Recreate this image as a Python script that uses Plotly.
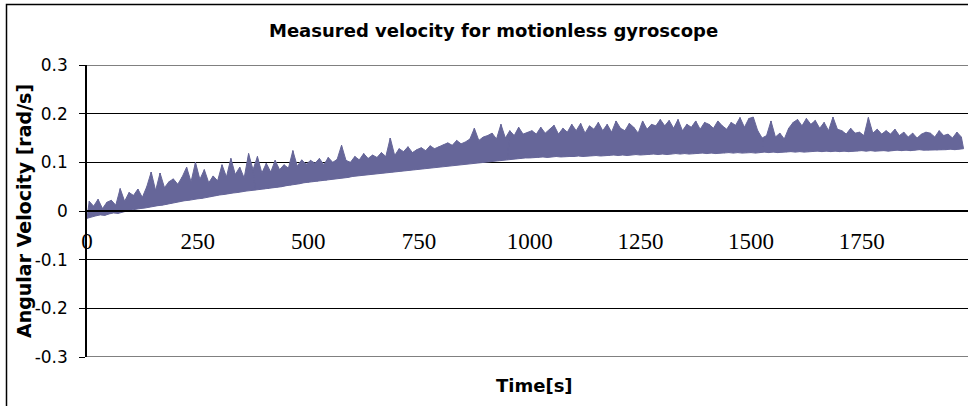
import plotly.graph_objects as go

step_s = 5

# angular velocity [rad/s] (alternating low / high samples)
velocity = [
    -0.015, 0.020, -0.012, 0.010, -0.010, 0.024, -0.008, 0.005, -0.009, 0.018,
    -0.006, 0.022, -0.004, 0.012, -0.005, 0.046, -0.002, 0.020, 0.000, 0.038,
    0.002, 0.032, 0.004, 0.045, 0.005, 0.028, 0.006, 0.050, 0.008, 0.080,
    0.010, 0.042, 0.011, 0.078, 0.012, 0.048, 0.014, 0.060, 0.016, 0.066,
    0.018, 0.055, 0.020, 0.070, 0.021, 0.090, 0.022, 0.060, 0.024, 0.100,
    0.025, 0.065, 0.026, 0.085, 0.028, 0.058, 0.029, 0.072, 0.031, 0.062,
    0.033, 0.095, 0.034, 0.070, 0.036, 0.108, 0.037, 0.075, 0.038, 0.090,
    0.040, 0.068, 0.041, 0.118, 0.042, 0.085, 0.043, 0.112, 0.044, 0.078,
    0.045, 0.098, 0.046, 0.080, 0.048, 0.104, 0.049, 0.085, 0.050, 0.095,
    0.052, 0.088, 0.053, 0.124, 0.055, 0.092, 0.056, 0.105, 0.058, 0.096,
    0.059, 0.104, 0.060, 0.098, 0.061, 0.108, 0.062, 0.095, 0.063, 0.110,
    0.064, 0.100, 0.066, 0.106, 0.067, 0.135, 0.068, 0.104, 0.069, 0.100,
    0.071, 0.112, 0.072, 0.105, 0.073, 0.118, 0.074, 0.108, 0.075, 0.115,
    0.076, 0.110, 0.077, 0.120, 0.078, 0.112, 0.079, 0.150, 0.080, 0.114,
    0.081, 0.128, 0.082, 0.122, 0.083, 0.132, 0.084, 0.120, 0.085, 0.126,
    0.086, 0.130, 0.087, 0.124, 0.088, 0.134, 0.089, 0.128, 0.090, 0.132,
    0.091, 0.136, 0.092, 0.140, 0.093, 0.135, 0.094, 0.145, 0.095, 0.138,
    0.096, 0.142, 0.097, 0.148, 0.098, 0.170, 0.099, 0.145, 0.100, 0.152,
    0.101, 0.155, 0.102, 0.160, 0.103, 0.148, 0.104, 0.178, 0.105, 0.150,
    0.106, 0.165, 0.107, 0.155, 0.107, 0.172, 0.108, 0.158, 0.109, 0.162,
    0.109, 0.165, 0.110, 0.158, 0.110, 0.172, 0.111, 0.160, 0.110, 0.168,
    0.111, 0.176, 0.112, 0.158, 0.111, 0.170, 0.112, 0.162, 0.112, 0.178,
    0.112, 0.165, 0.113, 0.180, 0.112, 0.160, 0.113, 0.175, 0.113, 0.168,
    0.114, 0.182, 0.113, 0.165, 0.114, 0.178, 0.114, 0.162, 0.115, 0.185,
    0.114, 0.170, 0.115, 0.165, 0.114, 0.180, 0.115, 0.172, 0.116, 0.160,
    0.115, 0.185, 0.116, 0.168, 0.116, 0.178, 0.117, 0.175, 0.116, 0.188,
    0.117, 0.175, 0.116, 0.186, 0.117, 0.170, 0.118, 0.188, 0.117, 0.165,
    0.118, 0.178, 0.117, 0.172, 0.118, 0.185, 0.118, 0.168, 0.119, 0.182,
    0.118, 0.178, 0.119, 0.170, 0.118, 0.185, 0.119, 0.175, 0.119, 0.168,
    0.120, 0.182, 0.119, 0.176, 0.120, 0.192, 0.119, 0.172, 0.120, 0.190,
    0.120, 0.193, 0.119, 0.165, 0.120, 0.150, 0.121, 0.155, 0.120, 0.185,
    0.121, 0.152, 0.120, 0.160, 0.121, 0.148, 0.121, 0.170, 0.122, 0.182,
    0.121, 0.188, 0.122, 0.175, 0.121, 0.190, 0.122, 0.178, 0.122, 0.186,
    0.123, 0.170, 0.122, 0.182, 0.123, 0.165, 0.122, 0.193, 0.123, 0.168,
    0.122, 0.165, 0.123, 0.158, 0.122, 0.170, 0.123, 0.160, 0.123, 0.162,
    0.124, 0.155, 0.123, 0.192, 0.124, 0.160, 0.123, 0.168, 0.124, 0.158,
    0.124, 0.165, 0.123, 0.158, 0.124, 0.168, 0.125, 0.155, 0.124, 0.162,
    0.125, 0.152, 0.124, 0.160, 0.125, 0.150, 0.126, 0.158, 0.125, 0.162,
    0.125, 0.160, 0.126, 0.152, 0.125, 0.165, 0.126, 0.155, 0.126, 0.158,
    0.127, 0.150, 0.126, 0.162, 0.127, 0.152, 0.128,
]
time_s = [i * step_s for i in range(len(velocity))]

x_ticks = [0, 250, 500, 750, 1000, 1250, 1500, 1750]
y_ticks = [-0.3, -0.2, -0.1, 0, 0.1, 0.2, 0.3]
y_tick_text = ["-0.3", "-0.2", "-0.1", "0", "0.1", "0.2", "0.3"]

title_text = "Measured velocity for motionless gyroscope"
x_title = "Time[s]"
y_title = "Angular Velocity [rad/s]"

W, H = 968, 406
L, R, T, B = 87, 0, 65, 49
pw, ph = W - L - R, H - T - B
series_color = "#666699"


def px(xp):
    return (xp - L) / pw


def py(yp):
    return (H - B - yp) / ph


fig = go.Figure()
# lower excursions of the noisy signal
fig.add_trace(go.Scatter(
    x=time_s[0::2], y=velocity[0::2], mode="lines",
    line=dict(color=series_color, width=1),
    hoverinfo="skip", showlegend=False,
))
# upper excursions, the dense band between them is filled
fig.add_trace(go.Scatter(
    x=time_s[1::2], y=velocity[1::2], mode="lines",
    line=dict(color=series_color, width=1),
    fill="tonexty", fillcolor=series_color,
    hoverinfo="skip", showlegend=False,
))
# the measured trace itself
fig.add_trace(go.Scatter(
    x=time_s, y=velocity, mode="lines",
    line=dict(color=series_color, width=1),
    hoverinfo="skip", showlegend=False,
))

fig.update_layout(
    width=W, height=H,
    margin=dict(l=L, r=R, t=T, b=B),
    paper_bgcolor="white", plot_bgcolor="white",
    showlegend=False,
    xaxis=dict(
        range=[0, 1990], tickvals=x_ticks, ticktext=[str(v) for v in x_ticks],
        anchor="free", position=0.5, showgrid=False, zeroline=False,
        showline=True, linecolor="black", linewidth=1.5,
        ticks="", ticklabelstandoff=10,
        tickfont=dict(family="Liberation Serif", size=23, color="black"),
    ),
    yaxis=dict(
        range=[-0.3, 0.3], tickvals=y_ticks, ticktext=y_tick_text,
        showgrid=True, gridcolor="black", gridwidth=1, zeroline=False,
        showline=True, linecolor="black", linewidth=1.5,
        ticks="outside", ticklen=6, tickcolor="black", ticklabelstandoff=8,
        tickfont=dict(family="DejaVu Sans", size=17, color="black"),
    ),
    annotations=[
        dict(text=f"<b>{title_text}</b>", xref="paper", yref="paper",
             x=px(493), y=py(30), xanchor="center", yanchor="middle",
             showarrow=False, font=dict(family="DejaVu Sans", size=18, color="black")),
        dict(text=f"<b>{x_title}</b>", xref="paper", yref="paper",
             x=px(534), y=py(385), xanchor="center", yanchor="middle",
             showarrow=False, font=dict(family="DejaVu Sans", size=18, color="black")),
        dict(text=f"<b>{y_title}</b>", xref="paper", yref="paper",
             x=px(24), y=py(211), xanchor="center", yanchor="middle", textangle=-90,
             showarrow=False, font=dict(family="DejaVu Sans", size=19, color="black")),
    ],
    shapes=[
        dict(type="line", xref="paper", yref="y", x0=0, x1=1, y0=0.3, y1=0.3,
             line=dict(color="#808080", width=2)),
        dict(type="line", xref="paper", yref="y", x0=0, x1=1, y0=-0.3, y1=-0.3,
             line=dict(color="#808080", width=2)),
        dict(type="rect", xref="paper", yref="paper", layer="above",
             x0=px(6.5), x1=px(W + 20), y0=py(H + 20), y1=py(4.5),
             line=dict(color="black", width=1.5), fillcolor="rgba(0,0,0,0)"),
    ],
)

fig.write_html("out.html")
